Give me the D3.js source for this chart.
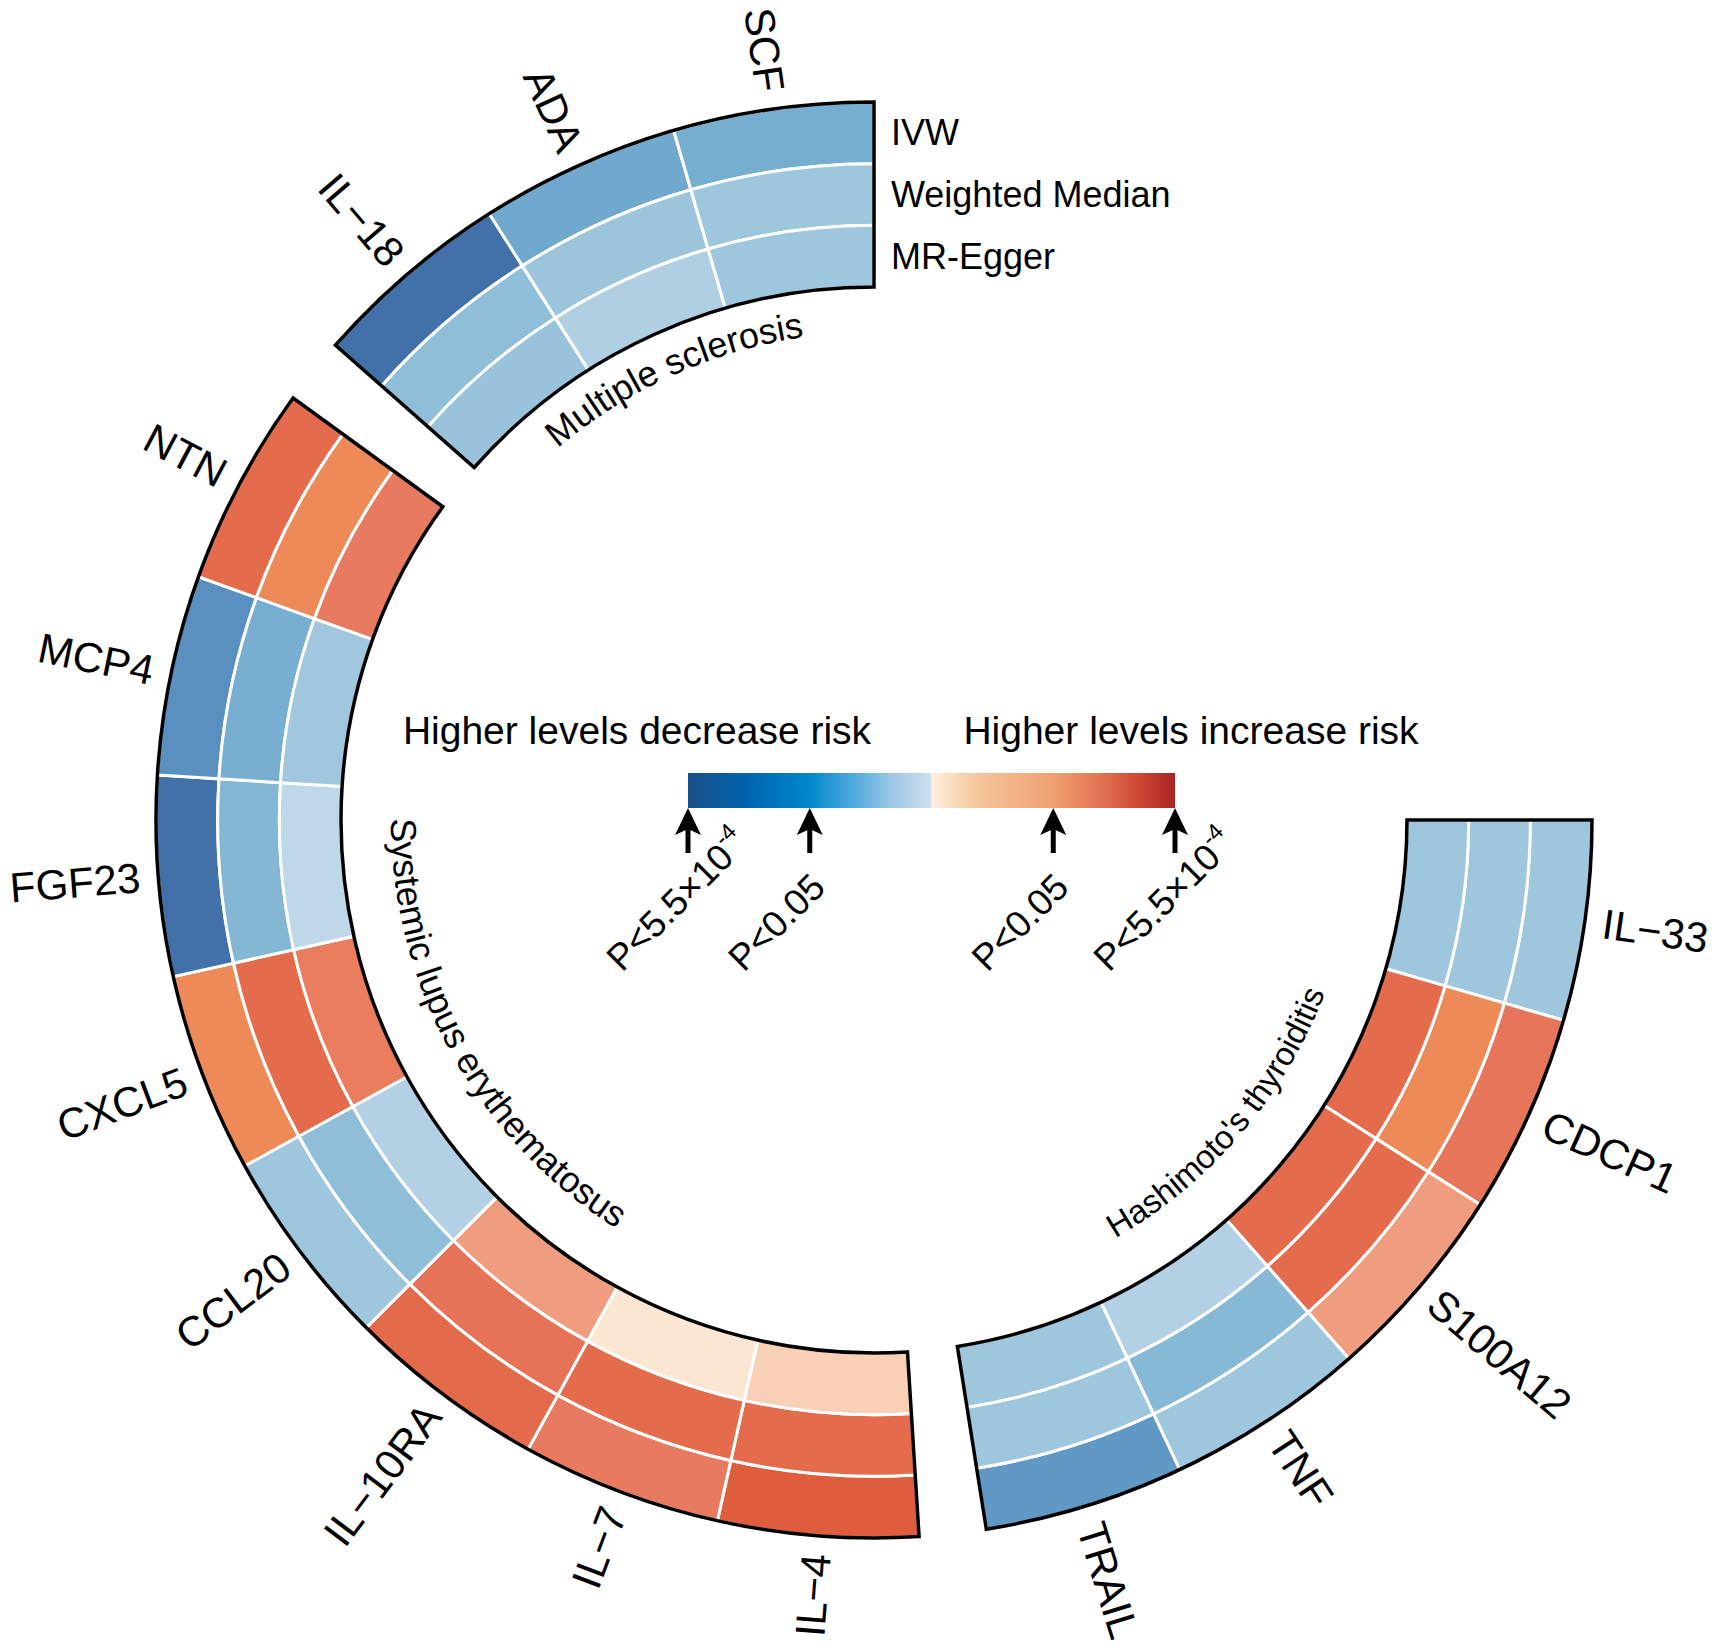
<!DOCTYPE html>
<html>
<head>
<meta charset="utf-8">
<script src="https://cdn.jsdelivr.net/npm/d3@7"></script>
<style>
  body { margin: 0; background: #fff; }
  svg { display: block; font-family: "Liberation Sans", Arial, sans-serif; }
</style>
</head>
<body>
<div class="canvas"></div>
<script>
// ---- data ----
const diseases = ["Hashimoto's thyroiditis", "Systemic lupus erythematosus", "Multiple sclerosis"];
const diseaseFont = [33, 36, 36];
const hashimotoGenes = ["IL\u221233", "CDCP1", "S100A12", "TNF", "TRAIL"];
const sleGenes = ["IL\u22124", "IL\u22127", "IL\u221210RA", "CCL20", "CXCL5", "FGF23", "MCP4", "NTN"];
const msGenes = ["IL\u221218", "ADA", "SCF"];
const methods = ["IVW", "Weighted Median", "MR-Egger"];

// signed colour score (negative = higher levels decrease risk)
const hashimotoIVW   = [-0.40, 0.70, 0.35, -0.40, -0.83];
const hashimotoWM    = [-0.40, 0.50, 0.80, -0.60, -0.40];
const hashimotoEgger = [-0.40, 0.80, 0.80, -0.20, -0.40];
const sleIVW   = [0.95, 0.65, 0.82, -0.40, 0.50, -1.00, -0.87, 0.80];
const sleWM    = [0.80, 0.80, 0.72, -0.55, 0.80, -0.62, -0.69, 0.50];
const sleEgger = [0.15, 0.03, 0.35, -0.20, 0.62, -0.08, -0.38, 0.65];
const msIVW   = [-1.00, -0.73, -0.70];
const msWM    = [-0.55, -0.42, -0.40];
const msEgger = [-0.45, -0.22, -0.40];

const legendTitles = ["Higher levels decrease risk", "Higher levels increase risk"];
const legendTicks = [-1, -0.5, 0.5, 1];
const legendTickLabels = ["P<5.5\u00d710", "P<0.05", "P<0.05", "P<5.5\u00d710"];
const legendTickSup = ["-4", "", "", "-4"];

const sectors = [
    { name: diseases[0], genes: hashimotoGenes, values: [hashimotoIVW, hashimotoWM, hashimotoEgger] },
    { name: diseases[1], genes: sleGenes, values: [sleIVW, sleWM, sleEgger] },
    { name: diseases[2], genes: msGenes, values: [msIVW, msWM, msEgger] }
];

// ---- layout ----
const W = 1716, H = 1652, cx = 874, cy = 820;
const rOut = 718, rIn = 533;
const cellDeg = 16.2, gapDeg = 5.4, startDeg = 90;
const rad = d => d * Math.PI / 180;

const svg = d3.select('.canvas')
    .append('svg')
    .attr('width', W)
    .attr('height', H);

const defs = svg.append('defs');
const g = svg.append('g').attr('transform', `translate(${cx},${cy})`);

const color = d3.scaleLinear()
    .domain([-1, -0.85, -0.7, -0.55, -0.4, -0.2, -0.0001, 0, 0.15, 0.35, 0.5, 0.65, 0.8, 1])
    .range(["#4271a9", "#5d95c4", "#76aed0", "#8ebed8", "#9ec6dc", "#b3d0e4", "#c6dcec",
            "#fcecd8", "#f8d0b6", "#f09c7e", "#ee8a58", "#e87a60", "#e46c4c", "#da5836"]);

const radius = d3.scaleBand()
    .domain(methods)
    .range([rOut, rIn]);
const bw = radius.bandwidth();

let angle = startDeg;
sectors.forEach((s, si) => {
    const x = d3.scaleBand()
        .domain(s.genes)
        .range([angle, angle + s.genes.length * cellDeg]);
    angle += s.genes.length * cellDeg + gapDeg;

    const cells = [];
    s.genes.forEach((gene, i) => methods.forEach((m, j) => cells.push({ gene, m, v: s.values[j][i] })));

    g.append('g').selectAll('path')
        .data(cells)
        .enter()
        .append('path')
        .attr('d', d => d3.arc()
            .innerRadius(radius(d.m))
            .outerRadius(radius(d.m) + bw)
            .startAngle(rad(x(d.gene)))
            .endAngle(rad(x(d.gene) + x.bandwidth()))())
        .attr('fill', d => color(d.v))
        .attr('stroke', '#fff')
        .attr('stroke-width', 3);

    const [a0, a1] = x.range();
    g.append('path')
        .attr('d', d3.arc().innerRadius(rIn).outerRadius(rOut).startAngle(rad(a0)).endAngle(rad(a1))())
        .attr('fill', 'none')
        .attr('stroke', '#000')
        .attr('stroke-width', 3.5);

    // gene labels
    g.append('g').selectAll('text')
        .data(s.genes)
        .enter()
        .append('text')
        .attr('transform', d => {
            const mid = x(d) + x.bandwidth() / 2;
            return `rotate(${mid - 90}) translate(${rOut + 18},0)` + (mid < 180 ? '' : ' rotate(180)');
        })
        .attr('text-anchor', d => (x(d) + x.bandwidth() / 2) < 180 ? 'start' : 'end')
        .attr('dominant-baseline', 'central')
        .attr('font-size', 42)
        .text(d => d);

    // disease name along the inner edge
    const mid = (a0 + a1) / 2;
    const inside = mid > 90 && mid < 270;
    const rText = inside ? 483 : 488;
    const p = d3.path();
    if (inside) p.arc(0, 0, rText, rad(a1 - 90), rad(a0 - 90), true);
    else p.arc(0, 0, rText, rad(a0 - 90), rad(a1 - 90), false);
    defs.append('path').attr('id', 'sec' + si).attr('d', p.toString());
    g.append('text')
        .attr('font-size', diseaseFont[si])
        .append('textPath')
        .attr('href', '#sec' + si)
        .attr('startOffset', '50%')
        .attr('text-anchor', 'middle')
        .text(s.name);
});

// track labels
svg.append('g').selectAll('text')
    .data(methods)
    .enter()
    .append('text')
    .attr('x', cx + 17)
    .attr('y', d => cy - (radius(d) + bw / 2))
    .attr('dominant-baseline', 'central')
    .attr('font-size', 36)
    .text(d => d);

// ---- legend ----
const lx = d3.scaleLinear().domain([-1, 1]).range([688, 1175]);
const barY = 773, barH = 35;

const grad = defs.append('linearGradient').attr('id', 'lg');
const gradStops = [
    [0, "#1b4f88"], [0.12, "#0064ad"], [0.25, "#0088cc"], [0.35, "#5aaedf"],
    [0.42, "#9cc8e6"], [0.4999, "#cfe0ee"], [0.5, "#fdf0dc"], [0.6, "#f5c49a"],
    [0.75, "#f0a070"], [0.85, "#e27252"], [0.93, "#cc4632"], [1, "#a82424"]
];
grad.selectAll('stop')
    .data(gradStops)
    .enter()
    .append('stop')
    .attr('offset', d => d[0])
    .attr('stop-color', d => d[1]);

svg.append('rect')
    .attr('x', lx(-1))
    .attr('y', barY)
    .attr('width', lx(1) - lx(-1))
    .attr('height', barH)
    .attr('fill', 'url(#lg)');

svg.selectAll('text.title')
    .data(legendTitles)
    .enter()
    .append('text')
    .attr('class', 'title')
    .attr('x', (d, i) => i === 0 ? 637 : 1191)
    .attr('y', 744)
    .attr('text-anchor', 'middle')
    .attr('font-size', 39)
    .text(d => d);

const ticks = svg.append('g').selectAll('g')
    .data(legendTicks)
    .enter()
    .append('g')
    .attr('transform', d => `translate(${lx(d)},0)`);

ticks.append('line')
    .attr('y1', 828).attr('y2', 853)
    .attr('stroke', '#000')
    .attr('stroke-width', 5);
ticks.append('path')
    .attr('d', 'M0,808 L-13,835 L0,829 L13,835 Z')
    .attr('fill', '#000');

const tl = ticks.append('text')
    .attr('transform', 'translate(-66,973) rotate(-45)')
    .attr('font-size', 37);
tl.append('tspan').text((d, i) => legendTickLabels[i]);
tl.append('tspan')
    .attr('font-size', 23)
    .attr('dy', -17)
    .text((d, i) => legendTickSup[i]);
</script>
</body>
</html>
